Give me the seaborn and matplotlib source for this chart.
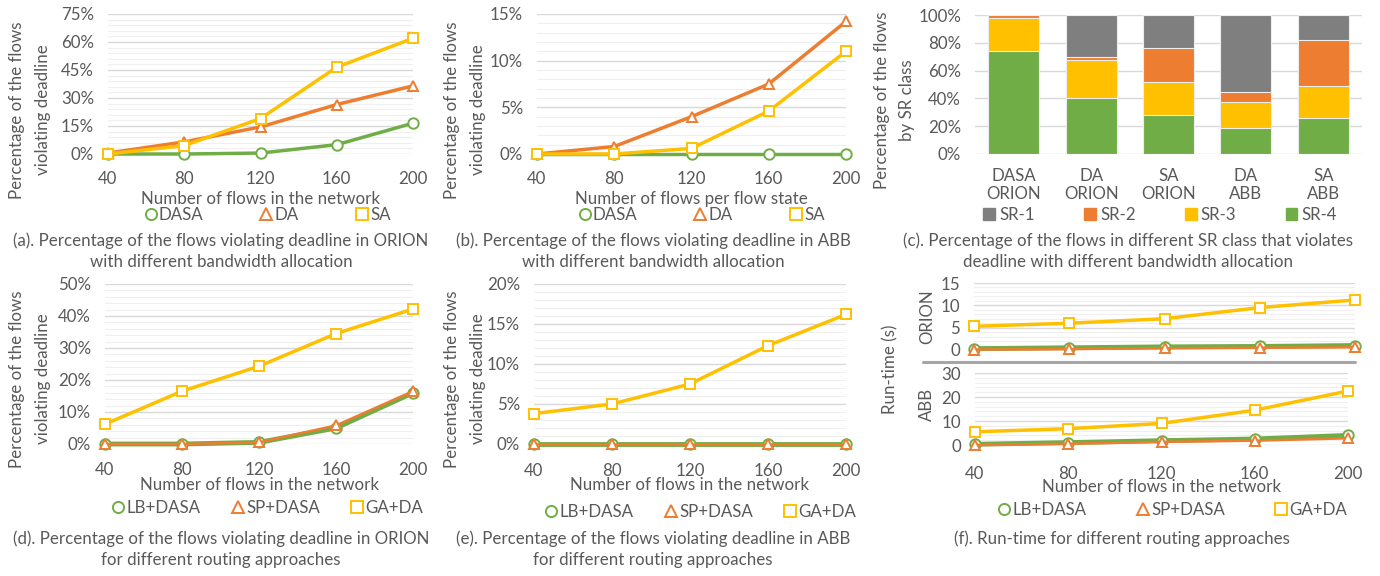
import matplotlib
matplotlib.use("Agg")
import numpy as np
import pandas as pd
import seaborn as sns
from matplotlib import pyplot as plt
from matplotlib.lines import Line2D
from matplotlib.patches import Patch
from matplotlib.ticker import MultipleLocator, PercentFormatter

W, H = 1380, 576

GREEN = "#70AD47"
ORANGE = "#ED7D31"
YELLOW = "#FFC000"
GRAY = "#7F7F7F"
TEXT = "#595959"

FLOWS = [40, 80, 120, 160, 200]

# (a) ORION, bandwidth allocation
ORION_BW_DASA = [0.0, 0.0, 0.5, 5.0, 16.5]
ORION_BW_DA = [0.5, 6.5, 14.5, 26.5, 36.5]
ORION_BW_SA = [0.0, 4.5, 19.0, 46.5, 62.0]

# (b) ABB, bandwidth allocation
ABB_BW_DASA = [0.0, 0.0, 0.0, 0.0, 0.0]
ABB_BW_DA = [0.0, 0.8, 4.0, 7.5, 14.2]
ABB_BW_SA = [0.0, 0.0, 0.6, 4.6, 11.0]

# (c) share of violating flows per SR class
SR_CASES = ["DASA\nORION", "DA\nORION", "SA\nORION", "DA\nABB", "SA\nABB"]
SR_CLASSES = ["SR-1", "SR-2", "SR-3", "SR-4"]
SR4 = [74.0, 40.0, 28.0, 18.5, 26.0]
SR3 = [24.0, 27.5, 24.0, 19.0, 23.0]
SR2 = [2.0, 2.0, 24.0, 7.0, 33.0]
SR1 = [0.0, 30.5, 24.0, 55.5, 18.0]

# (d) ORION, routing approaches
ORION_RT_LB = [0.0, 0.0, 0.5, 5.0, 16.0]
ORION_RT_SP = [0.0, 0.0, 0.5, 5.8, 16.5]
ORION_RT_GA = [6.2, 16.5, 24.3, 34.5, 42.2]

# (e) ABB, routing approaches
ABB_RT_LB = [0.0, 0.0, 0.0, 0.0, 0.0]
ABB_RT_SP = [0.0, 0.0, 0.0, 0.0, 0.0]
ABB_RT_GA = [3.8, 5.0, 7.5, 12.3, 16.2]

# (f) run-time in seconds
TIME_ORION_LB = [0.3, 0.5, 0.7, 0.8, 1.0]
TIME_ORION_SP = [0.1, 0.2, 0.4, 0.5, 0.6]
TIME_ORION_GA = [5.3, 6.0, 7.0, 9.5, 11.2]
TIME_ABB_LB = [0.3, 1.0, 1.8, 2.5, 4.0]
TIME_ABB_SP = [0.0, 0.5, 1.3, 1.8, 2.8]
TIME_ABB_GA = [5.5, 6.8, 9.0, 14.5, 22.5]

FS = 12.2
MS = 7.5

sns.set_theme(style="white")
plt.rcParams["font.family"] = ["Lato", "DejaVu Sans"]
plt.rcParams["text.color"] = TEXT
plt.rcParams["axes.labelcolor"] = TEXT


def box(left, top, right, bottom):
    return [left / W, 1 - bottom / H, (right - left) / W, (bottom - top) / H]


def style(ax, ymax, major, minor, pct=True, xpad=12):
    ax.set_ylim(0, ymax)
    ax.yaxis.set_major_locator(MultipleLocator(major))
    ax.yaxis.set_minor_locator(MultipleLocator(minor))
    if pct:
        ax.yaxis.set_major_formatter(PercentFormatter(decimals=0))
    ax.grid(which="major", axis="y", color="#D9D9D9", lw=1.0)
    ax.grid(which="minor", axis="y", color="#EFEFEF", lw=0.8)
    ax.grid(which="major", axis="x", visible=False)
    ax.set_axisbelow(True)
    for s in ax.spines.values():
        s.set_visible(False)
    ax.tick_params(which="both", length=0, labelsize=FS, labelcolor=TEXT)
    ax.tick_params(axis="y", pad=10)
    ax.tick_params(axis="x", pad=xpad)
    ax.set_ylabel("")
    ax.set_xlabel("")


def lines(ax, series):
    for vals, color, marker, lw, z in series:
        sns.lineplot(x=FLOWS, y=vals, ax=ax, color=color, lw=lw, marker=marker,
                     ms=MS, mfc="white", mec=color, mew=1.4, clip_on=False, zorder=z)
    ax.set_xlim(40, 200)
    ax.set_xticks(FLOWS)


def legend(labels, colors, markers, cx, cy, spacing):
    handles = [Line2D([], [], ls="none", marker=m, ms=MS + 0.5,
                      mfc="white", mec=c, mew=1.4)
               for c, m in zip(colors, markers)]
    fig.legend(handles, labels, loc="center", bbox_to_anchor=(cx / W, 1 - cy / H),
               ncol=len(labels), frameon=False, fontsize=FS, handlelength=0.6,
               handletextpad=0.2, columnspacing=spacing, labelcolor=TEXT)


def ylabel(text, x, y, size=FS):
    fig.text(x / W, 1 - y / H, text, rotation=90, ha="center", va="center",
             fontsize=size, color=TEXT)


def caption(text, x, y):
    fig.text(x / W, 1 - y / H, text, ha="center", va="center", fontsize=FS,
             color=TEXT, linespacing=1.4)


fig = plt.figure(figsize=(W / 100, H / 100), dpi=100)

bw_labels = ["DASA", "DA", "SA"]
rt_labels = ["LB+DASA", "SP+DASA", "GA+DA"]
trio = [GREEN, ORANGE, YELLOW]
marks = ["o", "^", "s"]

# (a)
ax = fig.add_axes(box(108, 14, 413, 154))
lines(ax, [(ORION_BW_DASA, GREEN, "o", 2.5, 3), (ORION_BW_DA, ORANGE, "^", 2.5, 4),
           (ORION_BW_SA, YELLOW, "s", 2.5, 5)])
style(ax, 75, 15, 3)
ax.set_xlabel("Number of flows in the network", fontsize=FS, labelpad=3)
ylabel("Percentage of the flows", 17, 110)
ylabel("violating deadline", 43, 110)
legend(bw_labels, trio, marks, 268, 215, 3.4)
caption("(a). Percentage of the flows violating deadline in ORION\n"
        "with different bandwidth allocation", 221, 251)

# (b)
ax = fig.add_axes(box(537, 14, 846, 154))
lines(ax, [(ABB_BW_DASA, GREEN, "o", 2.5, 3), (ABB_BW_DA, ORANGE, "^", 2.5, 4),
           (ABB_BW_SA, YELLOW, "s", 2.5, 5)])
style(ax, 15, 5, 1)
ax.set_xlabel("Number of flows per flow state", fontsize=FS, labelpad=3)
ylabel("Percentage of the flows", 452, 110)
ylabel("violating deadline", 478, 110)
legend(bw_labels, trio, marks, 702, 215, 3.4)
caption("(b). Percentage of the flows violating deadline in ABB\n"
        "with different bandwidth allocation", 653, 251)

# (c) stacked bars, drawn as cumulative layers from the top down
ax = fig.add_axes(box(975, 15, 1362, 154))
stack = np.array([SR4, SR3, SR2, SR1])
tops = np.cumsum(stack, axis=0)
sr_colors = [GREEN, YELLOW, ORANGE, GRAY]
for level in range(3, -1, -1):
    sns.barplot(x=SR_CASES, y=tops[level], ax=ax, color=sr_colors[level],
                width=0.66, edgecolor="#EDEDED", linewidth=0.8, saturation=1)
style(ax, 100, 20, 20, xpad=10)
ax.set_xlim(-0.5, 4.5)
ylabel("Percentage of the flows", 882, 100)
ylabel("by SR class", 907, 100)
sr_handles = [Patch(color=c) for c in [GRAY, ORANGE, YELLOW, GREEN]]
fig.legend(sr_handles, SR_CLASSES, loc="center", bbox_to_anchor=(1160 / W, 1 - 215 / H),
           ncol=4, frameon=False, fontsize=FS, handlelength=0.7, handleheight=0.7,
           handletextpad=0.25, columnspacing=2.9, labelcolor=TEXT)
caption("(c). Percentage of the flows in different SR class that violates\n"
        "deadline with different bandwidth allocation", 1128, 251)

# (d)
ax = fig.add_axes(box(105, 284, 413, 444))
lines(ax, [(ORION_RT_LB, GREEN, "o", 3.5, 3), (ORION_RT_SP, ORANGE, "^", 1.8, 4),
           (ORION_RT_GA, YELLOW, "s", 2.5, 5)])
style(ax, 50, 10, 2, xpad=13)
ax.set_xlabel("Number of flows in the network", fontsize=FS, labelpad=-1)
ylabel("Percentage of the flows", 17, 379)
ylabel("violating deadline", 43, 379)
legend(rt_labels, trio, marks, 268, 508, 1.9)
caption("(d). Percentage of the flows violating deadline in ORION\n"
        "for different routing approaches", 221, 549)

# (e)
ax = fig.add_axes(box(534, 284, 846, 444))
lines(ax, [(ABB_RT_LB, GREEN, "o", 3.5, 3), (ABB_RT_SP, ORANGE, "^", 1.8, 4),
           (ABB_RT_GA, YELLOW, "s", 2.5, 5)])
style(ax, 20, 5, 1, xpad=14)
ax.set_xlabel("Number of flows in the network", fontsize=FS, labelpad=-2)
ylabel("Percentage of the flows", 452, 379)
ylabel("violating deadline", 478, 379)
legend(rt_labels, trio, marks, 701, 512, 1.9)
caption("(e). Percentage of the flows violating deadline in ABB\n"
        "for different routing approaches", 653, 549)

# (f) run-time, ORION on top, ABB below
ax = fig.add_axes(box(974, 283, 1355, 350))
lines(ax, [(TIME_ORION_LB, GREEN, "o", 3.5, 3), (TIME_ORION_SP, ORANGE, "^", 1.8, 4),
           (TIME_ORION_GA, YELLOW, "s", 2.5, 5)])
style(ax, 15, 5, 1, pct=False)
ax.set_xticklabels([])
ax = fig.add_axes(box(975, 373, 1348, 445))
lines(ax, [(TIME_ABB_LB, GREEN, "o", 3.5, 3), (TIME_ABB_SP, ORANGE, "^", 1.8, 4),
           (TIME_ABB_GA, YELLOW, "s", 2.5, 5)])
style(ax, 30, 10, 2, pct=False, xpad=15)
ax.set_xlabel("Number of flows in the network", fontsize=FS, labelpad=-2)
fig.add_artist(Line2D([923 / W, 1355 / W], [1 - 362 / H, 1 - 362 / H],
                      color="#A6A6A6", lw=2.2))
ylabel("Run-time (s)", 890, 369)
ylabel("ORION", 927, 317)
ylabel("ABB", 927, 404)
legend(rt_labels, trio, marks, 1173, 510, 3.0)
caption("(f). Run-time for different routing approaches", 1122, 539)

fig.savefig("out.png", dpi=100, facecolor="white")
